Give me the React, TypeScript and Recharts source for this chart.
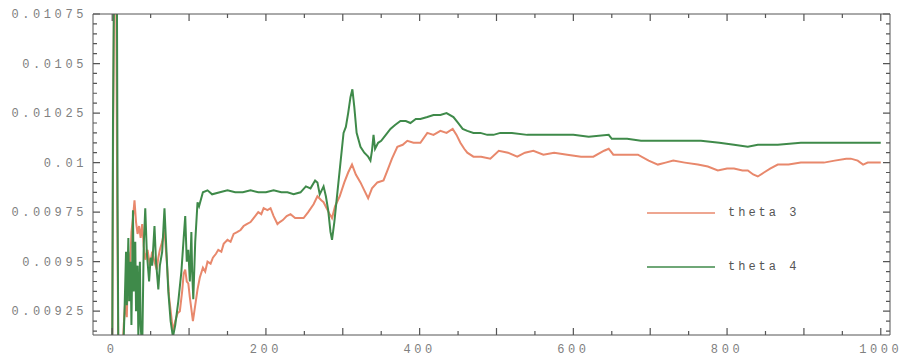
import { LineChart, Line, XAxis, YAxis, Legend } from 'recharts'

// [iteration, estimate]
const theta3: [number, number][] = [
  [0, 0.009], [1, 0.01], [2.5, 0.0109], [5, 0.011], [6.5, 0.0098], [8, 0.009],
  [13, 0.009], [15, 0.00918], [17, 0.0093], [19, 0.00922], [21, 0.00955], [23, 0.00945],
  [25, 0.00965], [27, 0.00972], [29, 0.00981], [31, 0.0097], [33, 0.00964], [35, 0.00968],
  [37, 0.00962], [39, 0.00969], [41, 0.00958], [43, 0.00951], [46, 0.00956], [49, 0.00948],
  [52, 0.00955], [55, 0.0095], [58, 0.00946], [60, 0.00952], [62, 0.00956], [65, 0.0096],
  [68, 0.00966], [71, 0.0095], [74, 0.00932], [77, 0.00922], [79, 0.00915], [82, 0.0092],
  [85, 0.00924], [88, 0.00925], [91, 0.00935], [93, 0.00944], [95, 0.00946], [97, 0.0094],
  [99, 0.00939], [101, 0.00932], [103, 0.00926], [105, 0.0092], [108, 0.00928], [111, 0.00936],
  [114, 0.00942], [118, 0.00947], [121, 0.00945], [124, 0.0095], [128, 0.00949], [131, 0.00952],
  [135, 0.00954], [138, 0.00956], [142, 0.00955], [145, 0.00959], [150, 0.00961], [154, 0.0096],
  [158, 0.00964], [163, 0.00965], [167, 0.00966], [171, 0.00968], [175, 0.00969], [180, 0.0097],
  [184, 0.00972], [190, 0.00975], [194, 0.00974], [197, 0.00977], [202, 0.00976], [206, 0.00977],
  [210, 0.00973], [215, 0.00969], [218, 0.0097], [222, 0.00971], [227, 0.00973], [232, 0.00974],
  [238, 0.00972], [242, 0.00972], [249, 0.00972], [255, 0.00975], [262, 0.00979], [267, 0.00983],
  [272, 0.00981], [275, 0.0098], [279, 0.00977], [283, 0.00974], [286, 0.00972], [290, 0.00978],
  [296, 0.00983], [302, 0.0099], [307, 0.00995], [312, 0.00999], [317, 0.00994], [323, 0.0099],
  [328, 0.00986], [333, 0.00982], [338, 0.00987], [345, 0.0099], [353, 0.00991], [358, 0.00996],
  [364, 0.01002], [371, 0.01008], [378, 0.01009], [384, 0.01011], [392, 0.0101], [401, 0.0101],
  [410, 0.01015], [418, 0.01014], [427, 0.01016], [435, 0.01015], [443, 0.01017], [448, 0.01014],
  [453, 0.0101], [458, 0.01007], [462, 0.01005], [470, 0.01003], [480, 0.01003], [492, 0.01002],
  [503, 0.01006], [515, 0.01005], [527, 0.01003], [537, 0.01005], [548, 0.01006], [561, 0.01004],
  [575, 0.01005], [592, 0.01004], [610, 0.01003], [626, 0.01003], [640, 0.01006], [646, 0.01007],
  [652, 0.01004], [657, 0.01004], [670, 0.01004], [684, 0.01004], [698, 0.01001], [710, 0.00999],
  [720, 0.01], [730, 0.01001], [745, 0.01], [762, 0.00999], [775, 0.00998], [788, 0.00996],
  [800, 0.00997], [809, 0.00997], [820, 0.00996], [827, 0.00996], [834, 0.00994], [840, 0.00993],
  [848, 0.00995], [856, 0.00997], [866, 0.00999], [880, 0.00999], [896, 0.01], [910, 0.01],
  [926, 0.01], [940, 0.01001], [955, 0.01002], [961, 0.01002], [970, 0.01001], [977, 0.00999],
  [983, 0.01], [992, 0.01], [1000, 0.01],
]

const theta4: [number, number][] = [
  [0, 0.009], [1, 0.0102], [2.5, 0.011], [6, 0.011], [7, 0.0098], [8, 0.009],
  [14, 0.009], [16, 0.00925], [18, 0.00955], [19, 0.00928], [21, 0.00962], [22, 0.0093],
  [24, 0.0095], [25, 0.00918], [27, 0.00976], [28, 0.00935], [30, 0.0096], [31, 0.00925],
  [33, 0.00948], [34, 0.00912], [36, 0.0095], [37, 0.00918], [39, 0.00905], [41, 0.00958],
  [43, 0.00977], [45, 0.00955], [48, 0.0094], [50, 0.00952], [52, 0.00948], [55, 0.00968],
  [57, 0.0095], [60, 0.00936], [62, 0.00948], [65, 0.00955], [68, 0.00977], [70, 0.0096],
  [73, 0.00935], [76, 0.0092], [79, 0.00912], [82, 0.00918], [86, 0.0093], [90, 0.00945],
  [93, 0.00962], [95, 0.00973], [97, 0.0095], [99, 0.00956], [101, 0.0094], [103, 0.00965],
  [104, 0.00945], [105.5, 0.00931], [108, 0.0096], [111, 0.0098], [113, 0.00978], [118, 0.00985],
  [124, 0.00986], [130, 0.00984], [140, 0.00985], [150, 0.00986], [160, 0.00985], [170, 0.00985],
  [180, 0.00986], [190, 0.00985], [200, 0.00985], [210, 0.00986], [220, 0.00985], [228, 0.00985],
  [236, 0.00984], [245, 0.00985], [252, 0.00988], [258, 0.00987], [264, 0.00991], [267, 0.0099],
  [270, 0.00984], [275, 0.00988], [278, 0.00983], [281, 0.00976], [284, 0.00965], [286, 0.00961],
  [289, 0.0097], [293, 0.00985], [297, 0.01], [301, 0.01015], [304, 0.01018], [307, 0.01025],
  [310, 0.01033], [312.5, 0.01037], [315, 0.01028], [318, 0.01015], [323, 0.01008], [328, 0.01005],
  [333, 0.01003], [336, 0.01001], [338, 0.01006], [340, 0.01014], [342, 0.01007], [346, 0.0101],
  [350, 0.01011], [356, 0.01014], [362, 0.01017], [368, 0.01019], [375, 0.01021], [382, 0.01021],
  [388, 0.0102], [395, 0.01022], [401, 0.01022], [410, 0.01023], [418, 0.01024], [427, 0.01024],
  [435, 0.01025], [444, 0.01023], [450, 0.0102], [456, 0.01017], [462, 0.01016], [470, 0.01015],
  [479, 0.01015], [488, 0.01014], [496, 0.01014], [505, 0.01015], [520, 0.01015], [540, 0.01014],
  [560, 0.01014], [580, 0.01014], [600, 0.01014], [620, 0.01013], [646, 0.01014], [650, 0.01012],
  [670, 0.01012], [688, 0.01011], [710, 0.01011], [740, 0.01011], [766, 0.01011], [790, 0.0101],
  [809, 0.01009], [827, 0.01008], [840, 0.01009], [866, 0.01009], [896, 0.0101], [926, 0.0101],
  [961, 0.0101], [983, 0.0101], [1000, 0.0101],
]

const xLabelTicks = [0, 200, 400, 600, 800, 1000]
const xMajorTicks = [0, 100, 200, 300, 400, 500, 600, 700, 800, 900, 1000]
const xAllTicks = [0, 50, 100, 150, 200, 250, 300, 350, 400, 450, 500, 550, 600, 650, 700, 750, 800, 850, 900, 950, 1000]
const yLabelTicks = [0.00925, 0.0095, 0.00975, 0.01, 0.01025, 0.0105, 0.01075]
const yAllTicks = Array.from({ length: 33 }, (_, i) => 0.00915 + i * 0.00005)

const X_DOMAIN: [number, number] = [-25, 1012]
const Y_DOMAIN: [number, number] = [0.00913, 0.01075]

// frame edges in px (margin + axis sizes below)
const LEFT = 93
const RIGHT = 890
const TOP = 14
const BOTTOM = 335

const FONT = '"Liberation Mono", "DejaVu Sans Mono", monospace'
const TEXT = '#808080'
const FRAME = '#555555'
const ORANGE = '#e8886c'
const GREEN = '#3f8a4a'

const toRows = (pts: [number, number][]) => pts.map(([x, v]) => ({ x, v }))
const near = (list: number[], v: number, eps: number) => list.find((t) => Math.abs(t - v) < eps)

// y tick: inward marks on left and right edges, label on majors
function YTick(props: any) {
  const { x, y, payload } = props
  const label = near(yLabelTicks, payload.value, 1e-9)
  const len = label !== undefined ? 7 : 4
  return (
    <g>
      <path d={`M${LEFT},${y}h${len}M${RIGHT},${y}h${-len}`} stroke={FRAME} strokeWidth={1.2} fill="none" />
      {label !== undefined && (
        <text x={x} y={y} dy="0.355em" textAnchor="end" fill={TEXT} fontFamily={FONT} fontSize={12} letterSpacing={3.6}>
          {String(label)}
        </text>
      )}
    </g>
  )
}

// x tick: inward marks on bottom and top edges, label every 200
function XTick(props: any) {
  const { x, y, payload } = props
  const v = payload.value
  const len = near(xMajorTicks, v, 1e-6) !== undefined ? 7 : 4
  const label = near(xLabelTicks, v, 1e-6)
  return (
    <g>
      <path d={`M${x},${BOTTOM}v${-len}M${x},${TOP}v${len}`} stroke={FRAME} strokeWidth={1.2} fill="none" />
      {label !== undefined && (
        <text x={x} y={y} dy="0.71em" textAnchor="middle" fill={TEXT} fontFamily={FONT} fontSize={12} letterSpacing={3.6}>
          {String(label)}
        </text>
      )}
    </g>
  )
}

function LegendBox({ payload }: any) {
  return (
    <div style={{ fontFamily: FONT, fontSize: 12, letterSpacing: 3, color: '#555' }}>
      {(payload || []).map((p: any, i: number) => (
        <div
          key={p.value}
          style={{ display: 'flex', alignItems: 'center', height: 20, marginBottom: i === 0 ? 34 : 0 }}
        >
          <svg width={68} height={4}>
            <line x1={0} y1={2} x2={68} y2={2} stroke={p.color} strokeWidth={1.5} />
          </svg>
          <span style={{ marginLeft: 13 }}>{p.value}</span>
        </div>
      ))}
    </div>
  )
}

export default function App() {
  return (
    <div style={{ position: 'absolute', left: 0, top: 0, background: '#fff' }}>
      <LineChart width={906} height={359} margin={{ top: TOP, right: 906 - RIGHT, bottom: 0, left: 0 }}>
        <XAxis
          dataKey="x"
          type="number"
          domain={X_DOMAIN}
          allowDataOverflow
          ticks={xAllTicks}
          interval={0}
          height={359 - BOTTOM}
          tickLine={false}
          tickMargin={3}
          axisLine={{ stroke: FRAME }}
          tick={XTick}
        />
        <XAxis xAxisId="top" orientation="top" dataKey="x" type="number" domain={X_DOMAIN} allowDataOverflow mirror height={1} tick={false} tickLine={false} axisLine={{ stroke: FRAME }} />

        <YAxis
          type="number"
          domain={Y_DOMAIN}
          allowDataOverflow
          ticks={yAllTicks}
          interval={0}
          width={LEFT}
          tickLine={false}
          tickMargin={0}
          axisLine={{ stroke: FRAME }}
          tick={YTick}
        />
        <YAxis yAxisId="right" orientation="right" type="number" domain={Y_DOMAIN} allowDataOverflow mirror width={1} tick={false} tickLine={false} axisLine={{ stroke: FRAME }} />

        <Legend
          layout="horizontal"
          verticalAlign="middle"
          align="center"
          content={<LegendBox />}
          wrapperStyle={{ left: 647, top: 203, width: 'auto', height: 'auto' }}
        />

        <Line
          data={toRows(theta3)}
          dataKey="v"
          name="theta 3"
          type="linear"
          stroke={ORANGE}
          strokeWidth={2}
          dot={false}
          isAnimationActive={false}
        />
        <Line
          data={toRows(theta4)}
          dataKey="v"
          name="theta 4"
          type="linear"
          stroke={GREEN}
          strokeWidth={2}
          dot={false}
          isAnimationActive={false}
        />
      </LineChart>
    </div>
  )
}
